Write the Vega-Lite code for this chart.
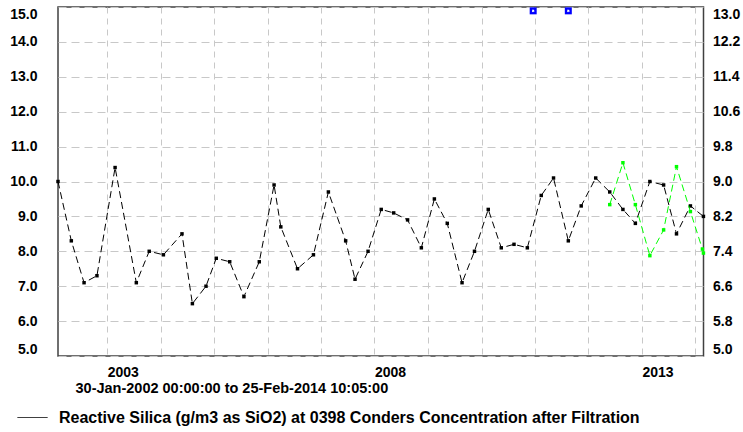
{
  "$schema": "https://vega.github.io/schema/vega-lite/v6.json",
  "width": 645.5,
  "height": 349,
  "autosize": {"type": "none"},
  "padding": {"left": 58, "top": 7, "right": 39.5, "bottom": 76},
  "background": "white",
  "config": {
    "view": {"stroke": "#404040", "strokeWidth": 1.5},
    "font": "Liberation Sans",
    "axis": {
      "labelFont": "Liberation Sans",
      "labelFontSize": 14,
      "labelFontWeight": "bold",
      "labelColor": "black",
      "titleFont": "Liberation Sans",
      "titleFontSize": 14.5,
      "titleFontWeight": "bold",
      "titleColor": "black",
      "domain": false,
      "ticks": false,
      "tickSize": 0,
      "gridColor": "#c8c8c8",
      "gridWidth": 1,
      "gridOpacity": 1
    },
    "legend": {
      "labelFont": "Liberation Sans",
      "labelFontSize": 16,
      "labelFontWeight": "bold",
      "labelColor": "black",
      "labelLimit": 0,
      "padding": 0
    }
  },
  "datasets": {
    "silica": [
      {"date": "2002-01-30", "value": 10.0},
      {"date": "2002-05-01", "value": 8.3},
      {"date": "2002-07-27", "value": 7.1},
      {"date": "2002-10-23", "value": 7.3},
      {"date": "2003-02-24", "value": 10.4},
      {"date": "2003-07-19", "value": 7.1},
      {"date": "2003-10-15", "value": 8.0},
      {"date": "2004-01-20", "value": 7.9},
      {"date": "2004-05-26", "value": 8.5},
      {"date": "2004-08-05", "value": 6.5},
      {"date": "2004-11-06", "value": 7.0},
      {"date": "2005-01-15", "value": 7.8},
      {"date": "2005-04-17", "value": 7.7},
      {"date": "2005-07-23", "value": 6.7},
      {"date": "2005-11-05", "value": 7.7},
      {"date": "2006-02-14", "value": 9.9},
      {"date": "2006-04-01", "value": 8.7},
      {"date": "2006-07-24", "value": 7.5},
      {"date": "2006-11-10", "value": 7.9},
      {"date": "2007-02-20", "value": 9.7},
      {"date": "2007-06-18", "value": 8.3},
      {"date": "2007-08-21", "value": 7.2},
      {"date": "2007-11-18", "value": 8.0},
      {"date": "2008-02-16", "value": 9.2},
      {"date": "2008-05-11", "value": 9.1},
      {"date": "2008-08-14", "value": 8.9},
      {"date": "2008-11-16", "value": 8.1},
      {"date": "2009-02-13", "value": 9.5},
      {"date": "2009-05-12", "value": 8.8},
      {"date": "2009-08-21", "value": 7.1},
      {"date": "2009-11-14", "value": 8.0},
      {"date": "2010-02-16", "value": 9.2},
      {"date": "2010-05-16", "value": 8.1},
      {"date": "2010-08-11", "value": 8.2},
      {"date": "2010-11-10", "value": 8.1},
      {"date": "2011-02-13", "value": 9.6},
      {"date": "2011-05-08", "value": 10.1},
      {"date": "2011-08-17", "value": 8.3},
      {"date": "2011-11-13", "value": 9.3},
      {"date": "2012-02-20", "value": 10.1},
      {"date": "2012-05-26", "value": 9.7},
      {"date": "2012-08-24", "value": 9.2},
      {"date": "2012-11-17", "value": 8.8},
      {"date": "2013-02-24", "value": 10.0},
      {"date": "2013-05-29", "value": 9.9},
      {"date": "2013-08-25", "value": 8.5},
      {"date": "2013-11-28", "value": 9.3},
      {"date": "2014-02-25", "value": 9.0}
    ],
    "green": [
      {"date": "2012-05-26", "value": 8.47},
      {"date": "2012-08-24", "value": 9.43},
      {"date": "2012-11-17", "value": 8.47},
      {"date": "2013-02-24", "value": 7.30},
      {"date": "2013-05-29", "value": 7.89},
      {"date": "2013-08-25", "value": 9.34},
      {"date": "2013-11-28", "value": 8.31},
      {"date": "2014-02-18", "value": 7.45},
      {"date": "2014-02-25", "value": 7.36}
    ],
    "flags": [
      {"date": "2010-12-20", "value": 14.89},
      {"date": "2011-08-17", "value": 14.89}
    ]
  },
  "encoding": {
    "x": {
      "field": "date",
      "type": "temporal",
      "scale": {
        "type": "utc",
        "domain": [
          {"year": 2002, "month": 1, "date": 30, "utc": true},
          {"year": 2014, "month": 2, "date": 25, "hours": 10, "minutes": 5, "utc": true}
        ]
      },
      "axis": {
        "orient": "bottom",
        "grid": true,
        "gridDash": [6, 5],
        "tickCount": {"interval": "year", "step": 1},
        "labelExpr": "utcyear(datum.value) % 5 == 3 ? utcFormat(datum.value, '%Y') : ''",
        "labelOverlap": false,
        "labelAlign": "left",
        "labelDx": -6,
        "labelBaseline": "top",
        "labelPadding": 9,
        "title": "30-Jan-2002 00:00:00 to 25-Feb-2014 10:05:00",
        "titleAlign": "left",
        "titleBaseline": "middle",
        "titleX": 17,
        "titleY": 32
      }
    }
  },
  "layer": [
    {
      "data": {"name": "silica"},
      "encoding": {
        "y": {
          "field": "value",
          "type": "quantitative",
          "scale": {"domain": [5, 15], "nice": false, "zero": false},
          "axis": {
            "orient": "left",
            "values": [5, 6, 7, 8, 9, 10, 11, 12, 13, 14, 15],
            "format": ".1f",
            "grid": true,
            "gridDash": [8, 5],
            "labelPadding": 21,
            "labelFlush": true,
            "title": null
          }
        }
      },
      "layer": [
        {
          "mark": {"type": "line", "strokeDash": [7, 4], "strokeWidth": 1},
          "encoding": {
            "color": {
              "datum": "Reactive Silica (g/m3 as SiO2) at 0398 Conders Concentration after Filtration",
              "scale": {"range": ["black"]},
              "legend": {
                "orient": "none",
                "legendX": -41,
                "legendY": 395,
                "title": null,
                "symbolType": "stroke",
                "symbolSize": 900,
                "symbolStrokeWidth": 1,
                "symbolStrokeColor": "black",
                "symbolDash": [1, 0],
                "labelOffset": 11,
                "labelLimit": 0
              }
            }
          }
        },
        {
          "mark": {"type": "point", "shape": "square", "filled": true, "size": 12, "color": "black", "opacity": 1}
        }
      ]
    },
    {
      "data": {"name": "green"},
      "encoding": {
        "y": {
          "field": "value",
          "type": "quantitative",
          "scale": {"domain": [5, 13], "nice": false, "zero": false},
          "axis": {
            "orient": "right",
            "values": [5, 5.8, 6.6, 7.4, 8.2, 9, 9.8, 10.6, 11.4, 12.2, 13],
            "format": ".1f",
            "grid": false,
            "labelPadding": 9,
            "labelFlush": true,
            "title": null
          }
        }
      },
      "layer": [
        {"mark": {"type": "line", "strokeDash": [7, 4], "strokeWidth": 1, "color": "#00ff00"}},
        {"mark": {"type": "point", "shape": "square", "filled": true, "size": 12, "color": "#00ff00", "opacity": 1}}
      ]
    },
    {
      "data": {"name": "flags"},
      "encoding": {
        "y": {
          "field": "value",
          "type": "quantitative",
          "scale": {"domain": [5, 15], "nice": false, "zero": false},
          "axis": null
        }
      },
      "layer": [
        {"mark": {"type": "point", "shape": "square", "filled": true, "size": 49, "color": "#0000ff", "opacity": 1}},
        {"mark": {"type": "point", "shape": "cross", "angle": 45, "filled": true, "size": 7, "color": "white", "opacity": 1}}
      ]
    }
  ],
  "resolve": {"scale": {"y": "independent"}, "axis": {"y": "independent"}}
}
